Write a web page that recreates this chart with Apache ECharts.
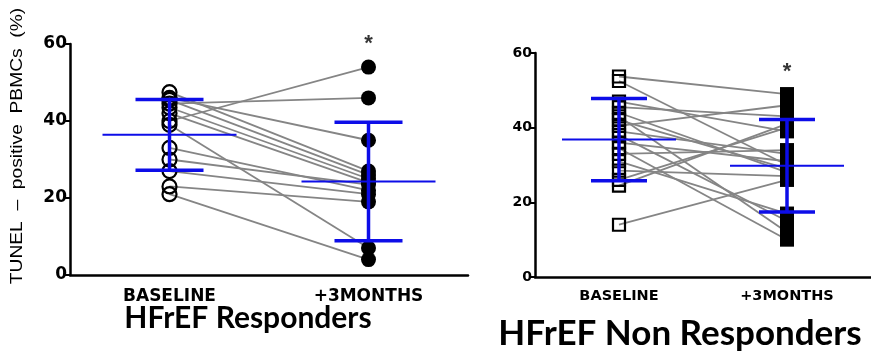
<!DOCTYPE html>
<html><head><meta charset="utf-8">
<script src="https://cdn.jsdelivr.net/npm/echarts@6/dist/echarts.min.js"></script>
<style>html,body{margin:0;padding:0;background:#fff;} #c{width:871px;height:353px;}</style>
</head><body><div id="c"></div>
<script>
// ---- data ----
const categories = ['BASELINE', '+3MONTHS'];
const yTicks = [0, 20, 40, 60];
const titles = ['HFrEF Responders', 'HFrEF Non Responders'];
const yAxisName = 'TUNEL  –  positive  PBMCs  (%)';
const starText = '*';

// Responders: paired values per subject
const respBaseline = [47.5, 46, 45.5, 44.5, 43.5, 42, 40, 39, 33, 30, 27, 23, 21];
const resp3m       = [27,   35, 26,   46,   25,   24, 54, 7,  22, 23.5, 21, 19, 4];
const respMean = [36.4, 24.3];
const respSD   = [9.2, 15.4];
const respStar = 60;

// Non responders
const nonBaseline = [53.7, 52.5, 47, 45.5, 44, 43, 42, 40.5, 39, 38, 36, 34.5, 33, 31, 28.5, 26, 24.5, 14];
const non3m       = [49,   30,   39, 43,   28, 12, 29, 46,   33, 15, 31, 10,   34, 17, 27,   40, 41,   26];
const nonMean = [36.8, 29.8];
const nonSD   = [11.0, 12.4];
const nonStar = 55;

// ---- chart ----
const chart = echarts.init(document.getElementById('c'), null, {renderer: 'canvas'});
const BLUE = '#0d0de8';

function pairSeries(b, m, gi) {
  return b.map((v, i) => ({
    type: 'line', xAxisIndex: gi, yAxisIndex: gi, data: [[0, v], [1, m[i]]],
    symbol: 'none', silent: true, z: 1,
    lineStyle: {color: '#858585', width: 1.8}
  }));
}
function errSeries(mean, sd, gi, hwMean, hwCap) {
  return {
    type: 'custom', xAxisIndex: gi, yAxisIndex: gi, z: 5, clip: false,
    data: mean.map((v, i) => [i, v, sd[i]]),
    renderItem: function (params, api) {
      const x = api.value(0), mu = api.value(1), s = api.value(2);
      const c = api.coord([x, mu]), t = api.coord([x, mu + s]), b = api.coord([x, mu - s]);
      const st = (w) => ({stroke: BLUE, lineWidth: w, fill: null});
      return {type: 'group', children: [
        {type: 'line', shape: {x1: c[0] - hwMean, y1: c[1], x2: c[0] + hwMean, y2: c[1]}, style: st(2)},
        {type: 'line', shape: {x1: t[0], y1: t[1], x2: b[0], y2: b[1]}, style: st(3.5)},
        {type: 'line', shape: {x1: t[0] - hwCap, y1: t[1], x2: t[0] + hwCap, y2: t[1]}, style: st(3.5)},
        {type: 'line', shape: {x1: b[0] - hwCap, y1: b[1], x2: b[0] + hwCap, y2: b[1]}, style: st(3.5)}
      ]};
    }
  };
}
function starSeries(v, gi, fs) {
  return {type: 'scatter', xAxisIndex: gi, yAxisIndex: gi, data: [[1, v]], symbolSize: 0, clip: false, z: 6,
    label: {show: true, position: 'inside', formatter: starText, fontSize: fs, fontWeight: 'bold', color: '#000', fontFamily: 'Liberation Sans'}};
}

const axisLineStyle = {color: '#000', width: 2.5};
function xAxis(gi, fs, mg) {
  return {type: 'category', gridIndex: gi, data: categories, boundaryGap: true,
    axisLine: {lineStyle: axisLineStyle},
    axisTick: {alignWithLabel: true, length: 5, lineStyle: {color: '#000', width: 2}},
    axisLabel: {color: '#000', fontWeight: 'bold', fontSize: fs, fontFamily: 'DejaVu Sans', margin: mg}};
}
function yAxis(gi, fs) {
  return {type: 'value', gridIndex: gi, min: 0, max: 60, interval: 20, splitLine: {show: false},
    axisLine: {show: true, lineStyle: axisLineStyle},
    axisTick: {show: true, length: 5, lineStyle: {color: '#000', width: 2}},
    axisLabel: {color: '#000', fontWeight: 'bold', fontSize: fs, fontFamily: 'DejaVu Sans', margin: 3,
      formatter: (v) => yTicks.indexOf(v) >= 0 ? String(v) : ''}};
}
const scat = (gi, sym, size, vals, idx, filled) => ({
  type: 'scatter', xAxisIndex: gi, yAxisIndex: gi, z: 3, symbol: sym, symbolSize: size,
  data: vals.map(v => [idx, v]),
  itemStyle: filled ? {color: '#000', opacity: 1} : {color: 'rgba(255,255,255,0)', borderColor: '#000', borderWidth: 2.2, opacity: 1}
});

const option = {
  backgroundColor: '#fff',
  animation: false,
  grid: [
    {left: 70, top: 44, width: 398, height: 231},
    {left: 535, top: 53, width: 340, height: 224}
  ],
  xAxis: [xAxis(0, 17, 13), xAxis(1, 14.5, 12)],
  yAxis: [yAxis(0, 17), yAxis(1, 14)],
  graphic: [
    {type: 'text', x: 248, y: 318, style: {text: titles[0], fontSize: 30, fontWeight: 'bold', fontFamily: 'Lato', fill: '#000', textAlign: 'center', textVerticalAlign: 'middle'}},
    {type: 'text', x: 680, y: 334, style: {text: titles[1], fontSize: 35, fontWeight: 'bold', fontFamily: 'Lato', fill: '#000', textAlign: 'center', textVerticalAlign: 'middle'}},
    {type: 'text', x: 18, y: 146, rotation: Math.PI / 2, scaleX: 1.2, style: {text: yAxisName, fontSize: 16, fontFamily: 'Liberation Sans', fill: '#000', textAlign: 'center', textVerticalAlign: 'middle'}}
  ],
  series: [].concat(
    pairSeries(respBaseline, resp3m, 0),
    pairSeries(nonBaseline, non3m, 1),
    [
      scat(0, 'circle', 14, respBaseline, 0, false),
      scat(0, 'circle', 15, resp3m, 1, true),
      scat(1, 'rect', [12, 12], nonBaseline, 0, false),
      scat(1, 'rect', [14, 14], non3m, 1, true),
      errSeries(respMean, respSD, 0, 67, 34),
      errSeries(nonMean, nonSD, 1, 57, 28),
      starSeries(respStar, 0, 22),
      starSeries(nonStar, 1, 22)
    ]
  )
};
chart.setOption(option);
</script>
</body></html>
